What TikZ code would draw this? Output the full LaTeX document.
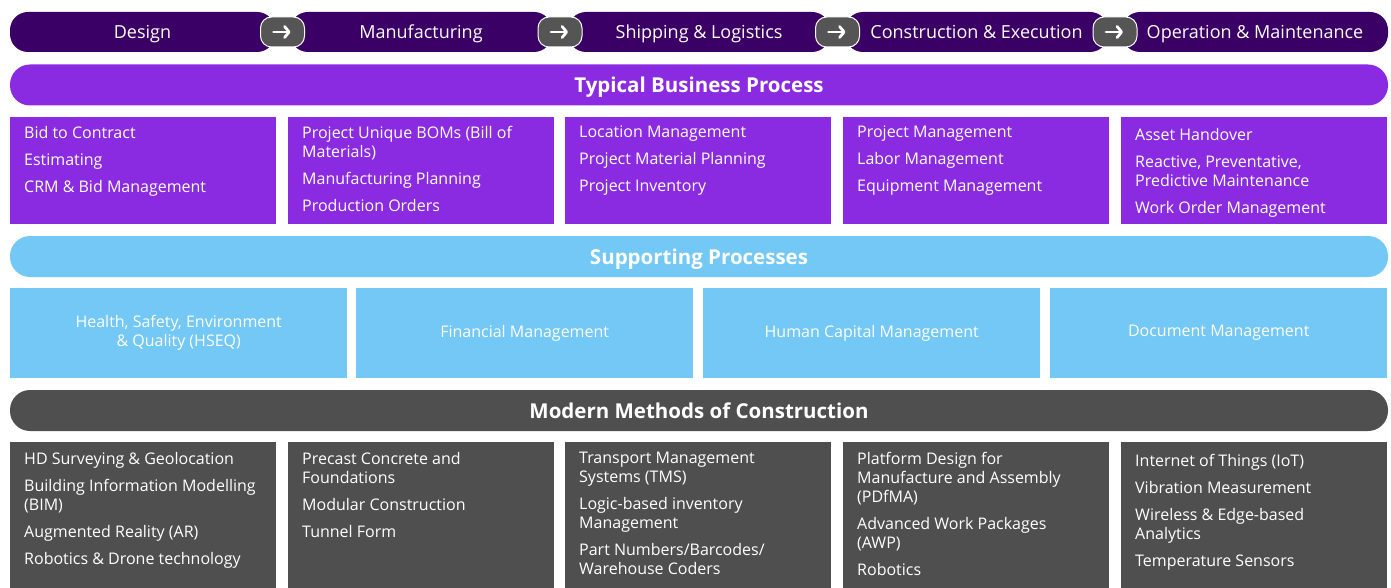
\documentclass[tikz,border=0pt]{standalone}
\usepackage{fontspec}
\setmainfont{Open Sans}
\usetikzlibrary{arrows.meta,calc}

\definecolor{stagepurple}{HTML}{3B0066}
\definecolor{bizpurple}{HTML}{8A2BE2}
\definecolor{supblue}{HTML}{73C8F6}
\definecolor{mmcgray}{HTML}{4F4F4F}
\definecolor{badgegray}{HTML}{555555}

\begin{document}
\begin{tikzpicture}[x=1pt,y=-1pt,
    stage/.style={fill=stagepurple,text=white,rounded corners=18pt,minimum height=40pt,inner sep=0pt,text depth=0pt,font=\fontsize{18}{20}\selectfont},
    badge/.style={fill=badgegray,draw=white,line width=1pt,rounded corners=11pt,minimum width=44pt,minimum height=30pt,inner sep=0pt},
    banner/.style={rounded corners=20pt,minimum width=1378pt,minimum height=41pt,inner sep=0pt,text depth=0pt,text=white,font=\fontsize{20.5}{24}\selectfont\bfseries},
    panel/.style={anchor=north west,inner sep=0pt,minimum width=266pt,minimum height=#1},
    items/.style={anchor=north west,inner sep=0pt,align=left,text=white,font=\fontsize{16}{19}\selectfont,
      execute at begin node=\rule{0pt}{13pt}},
    centred/.style={inner sep=0pt,align=center,text=white,font=\fontsize{16}{19}\selectfont}]
  \useasboundingbox (0,0) rectangle (1391,588);

  % life-cycle stages
  \node[stage,minimum width=265pt] (design) at (142.5,32) {Design};
  \node[stage,minimum width=262pt] (manuf) at (421,32) {Manufacturing};
  \node[stage,minimum width=262pt] (ship) at (699,32) {Shipping \& Logistics};
  \node[stage,minimum width=263pt] (constr) at (976.5,32) {Construction \& Execution};
  \node[stage,minimum width=266pt] (oper) at (1255,32) {Operation \& Maintenance};
  \foreach \a/\b [count=\i] in {design/manuf,manuf/ship,ship/constr,constr/oper} {
    \node[badge] (arr\i) at ($(\a.east)!0.5!(\b.west)$) {};
    \draw[white,line width=2.8pt,line cap=round,-{Straight Barb[round,length=4.5pt,width=11pt]}]
      ([xshift=-9pt]arr\i.center) -- ([xshift=8pt]arr\i.center);
  }

  % typical business process
  \node[banner,fill=bizpurple] (biz) at (699,85) {Typical Business Process};
  \foreach \x [count=\i] in {10,288,565,843,1121}
    \node[panel=107pt,fill=bizpurple] (p\i) at (\x,117) {};
  \node[items] (pt1) at ([xshift=14pt,yshift=-9pt]p1.north west)
    {Bid to Contract\\[8pt]Estimating\\[8pt]CRM \& Bid Management};
  \node[items] (pt2) at ([xshift=14pt,yshift=-9pt]p2.north west)
    {Project Unique BOMs (Bill of\\Materials)\\[8pt]Manufacturing Planning\\[8pt]Production Orders};
  \node[items] (pt3) at ([xshift=14pt,yshift=-9pt]p3.north west)
    {Location Management\\[8pt]Project Material Planning\\[8pt]Project Inventory};
  \node[items] (pt4) at ([xshift=14pt,yshift=-9pt]p4.north west)
    {Project Management\\[8pt]Labor Management\\[8pt]Equipment Management};
  \node[items] (pt5) at ([xshift=14pt,yshift=-11pt]p5.north west)
    {Asset Handover\\[8pt]Reactive, Preventative,\\Predictive Maintenance\\[8pt]Work Order Management};

  % supporting processes
  \node[banner,fill=supblue] (sup) at (699,256.5) {Supporting Processes};
  \foreach \x [count=\i] in {10,356,703,1050}
    \node[panel=90pt,minimum width=337pt,fill=supblue] (s\i) at (\x,288) {};
  \node[centred] (st1) at (s1) {Health, Safety, Environment\\\& Quality (HSEQ)};
  \node[centred] (st2) at (s2) {Financial Management};
  \node[centred] (st3) at (s3) {Human Capital Management};
  \node[centred] (st4) at (s4) {Document Management};

  % modern methods of construction
  \node[banner,fill=mmcgray] (mmc) at (699,410.5) {Modern Methods of Construction};
  \foreach \x [count=\i] in {10,288,565,843,1121}
    \node[panel=146pt,fill=mmcgray] (m\i) at (\x,442) {};
  \node[items] (mt1) at ([xshift=14pt,yshift=-10pt]m1.north west)
    {HD Surveying \& Geolocation\\[8pt]Building Information Modelling\\(BIM)\\[8pt]Augmented Reality (AR)\\[8pt]Robotics \& Drone technology};
  \node[items] (mt2) at ([xshift=14pt,yshift=-10pt]m2.north west)
    {Precast Concrete and\\Foundations\\[8pt]Modular Construction\\[8pt]Tunnel Form};
  \node[items] (mt3) at ([xshift=14pt,yshift=-10pt]m3.north west)
    {Transport Management\\Systems (TMS)\\[8pt]Logic-based inventory\\Management\\[8pt]Part Numbers/Barcodes/\\Warehouse Coders};
  \node[items] (mt4) at ([xshift=14pt,yshift=-10pt]m4.north west)
    {Platform Design for\\Manufacture and Assembly\\(PDfMA)\\[8pt]Advanced Work Packages\\(AWP)\\[8pt]Robotics};
  \node[items] (mt5) at ([xshift=14pt,yshift=-12pt]m5.north west)
    {Internet of Things (IoT)\\[8pt]Vibration Measurement\\[8pt]Wireless \& Edge-based\\Analytics\\[8pt]Temperature Sensors};
\end{tikzpicture}
\end{document}
